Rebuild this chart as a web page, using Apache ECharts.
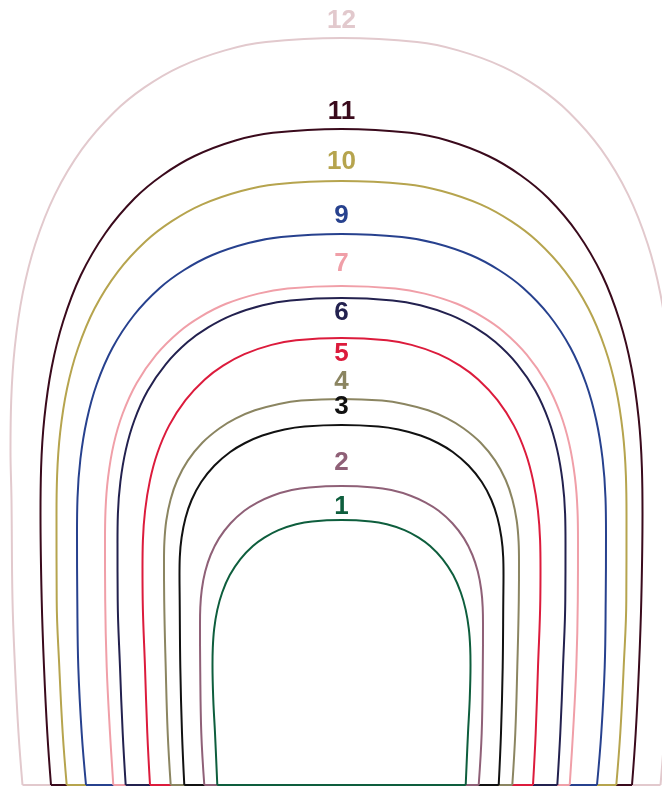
<!DOCTYPE html>
<html>
<head>
<meta charset="utf-8">
<script src="https://cdn.jsdelivr.net/npm/echarts@6/dist/echarts.min.js"></script>
<style>
html,body{margin:0;padding:0;background:#ffffff;}
#chart{width:662px;height:787px;}
</style>
</head>
<body>
<div id="chart"></div>
<script>
// Curve labels, outermost first
const curveNames = ['12', '11', '10', '9', '7', '6', '5', '4', '3', '2', '1'];
// Height of each label above the base line
const labelHeights = [764, 673.5, 623, 569, 521, 472, 431, 403, 378, 322, 278];

// Half profiles: [half-width, height above base], from the foot up to the crown
const profile12 = [[319,0],[323,52],[326.5,118],[329,185],[330,285],[331,335],[330.3,384.4],[326.7,438],[318.8,491.6],[306.2,541],[286.6,590.4],[259.5,635.8],[227.4,672.8],[197,697.6],[161.5,718.2],[116.5,734.6],[75.5,742.9],[0,747]];
const profile11 = [[290.5,0],[294.2,52],[297.5,118],[299.8,185],[301,271],[300.4,317.2],[297.1,367.3],[289.9,417.3],[278.4,463.5],[260.7,509.7],[236,552],[206.8,586.7],[179.1,609.8],[146.9,629],[106,644.5],[68.6,652.2],[0,656]];
const profile10 = [[274.8,0],[278.8,52],[282.2,118],[284.8,185],[285,269],[284.4,309.2],[281.3,352.8],[274.5,396.3],[263.6,436.5],[246.8,476.7],[223.4,513.6],[195.8,543.7],[169.6,563.8],[139.1,580.6],[100.3,594],[65,600.7],[0,604]];
const profile9  = [[255.5,0],[259.8,52],[263.2,118],[264.2,185],[264.5,251],[264,287],[261.1,326],[254.7,365],[244.7,401],[229.1,437],[207.4,470],[181.7,497],[157.4,515],[129.1,530],[93.1,542],[60.3,548],[0,551]];
const profile7  = [[228.2,0],[231.5,52],[234.8,118],[236.3,185],[236.5,244],[236,274.6],[233.4,307.8],[227.8,340.9],[218.8,371.5],[204.8,402.1],[185.4,430.2],[162.5,453.1],[140.7,468.4],[115.4,481.2],[83.2,491.4],[53.9,496.5],[0,499]];
const profile6  = [[215.8,0],[218.8,52],[221.5,118],[223.8,185],[224,242],[223.6,271.4],[221.1,303.3],[215.7,335.1],[207.2,364.5],[194,393.9],[175.6,420.9],[153.9,442.9],[133.3,457.6],[109.3,469.9],[78.8,479.7],[51.1,484.6],[0,487]];
const profile5  = [[191.5,0],[194.2,52],[196.5,118],[198.8,185],[199,217],[198.6,244.6],[196.4,274.5],[191.6,304.4],[184.1,332],[172.3,359.6],[156,384.9],[136.7,405.6],[118.4,419.4],[97.1,430.9],[70,440.1],[45.4,444.7],[0,447]];
const profile4  = [[170.8,0],[173.8,52],[175.8,118],[177.3,185],[177.5,224],[177.1,243.4],[175.2,264.5],[170.9,285.6],[164.2,305],[153.7,324.4],[139.2,342.3],[121.9,356.8],[105.6,366.6],[86.6,374.7],[62.5,381.1],[40.5,384.4],[0,386]];
const profile3  = [[157.2,0],[159.5,52],[161.2,118],[161.8,185],[162,210],[161.7,228],[159.9,247.5],[156,267],[149.9,285],[140.3,303],[127,319.5],[111.3,333],[96.4,342],[79.1,349.5],[57,355.5],[36.9,358.5],[0,360]];
const profile2  = [[137.2,0],[140.2,52],[141.3,118],[141.5,161],[141.2,177.6],[139.7,195.5],[136.3,213.4],[130.9,230],[122.5,246.6],[110.9,261.7],[97.2,274.2],[84.2,282.4],[69.1,289.3],[49.8,294.9],[32.3,297.6],[0,299]];
const profile1  = [[124.2,0],[126.5,52],[128.2,85],[129,120],[128.7,137.4],[127.3,156.3],[124.2,175.1],[119.3,192.5],[111.7,209.9],[101.1,225.9],[88.6,238.9],[76.8,247.6],[63,254.9],[45.4,260.7],[29.4,263.6],[0,265]];

const profiles = [profile12, profile11, profile10, profile9, profile7, profile6, profile5, profile4, profile3, profile2, profile1];

// Styles
const curveColors = ['#e2c9cd', '#3a0a1c', '#b6a44e', '#27418e', '#f09fa8', '#23214f', '#dc1b3c', '#8b8561', '#111111', '#8f6077', '#0e5e3d'];

function closedOutline(profile) {
  const left = profile.map(p => [-p[0], p[1]]);
  const right = profile.slice(0, -1).reverse().map(p => [p[0], p[1]]);
  return left.concat(right);
}

const series = [];
profiles.forEach((prof, i) => {
  const col = curveColors[i];
  series.push({
    type: 'line',
    name: curveNames[i],
    data: closedOutline(prof),
    smooth: 0.4,
    symbol: 'none',
    silent: true,
    lineStyle: { color: col, width: 2 },
    z: 2 + i
  });
  series.push({
    type: 'line',
    name: curveNames[i] + '-base',
    data: [[-prof[0][0], prof[0][1]], [prof[0][0], prof[0][1]]],
    smooth: false,
    symbol: 'none',
    silent: true,
    lineStyle: { color: col, width: 2 },
    z: 2 + i
  });
});

series.push({
  type: 'scatter',
  symbolSize: 0,
  silent: true,
  z: 40,
  itemStyle: { opacity: 1, color: 'rgba(0,0,0,0)' },
  data: curveNames.map((n, i) => ({
    name: n,
    value: [0, labelHeights[i]],
    label: { color: curveColors[i] }
  })),
  label: {
    show: true,
    position: 'inside',
    formatter: p => p.name,
    fontFamily: '"Liberation Sans", Arial, sans-serif',
    fontWeight: 'bold',
    fontSize: 26
  }
});

const chart = echarts.init(document.getElementById('chart'), null, { renderer: 'canvas' });
chart.setOption({
  animation: false,
  backgroundColor: '#ffffff',
  grid: { left: 0, right: 0, top: 0, bottom: 0, containLabel: false },
  xAxis: { type: 'value', min: -341.5, max: 320.5, show: false },
  yAxis: { type: 'value', min: -2, max: 785, show: false },
  series: series
});
</script>
</body>
</html>
